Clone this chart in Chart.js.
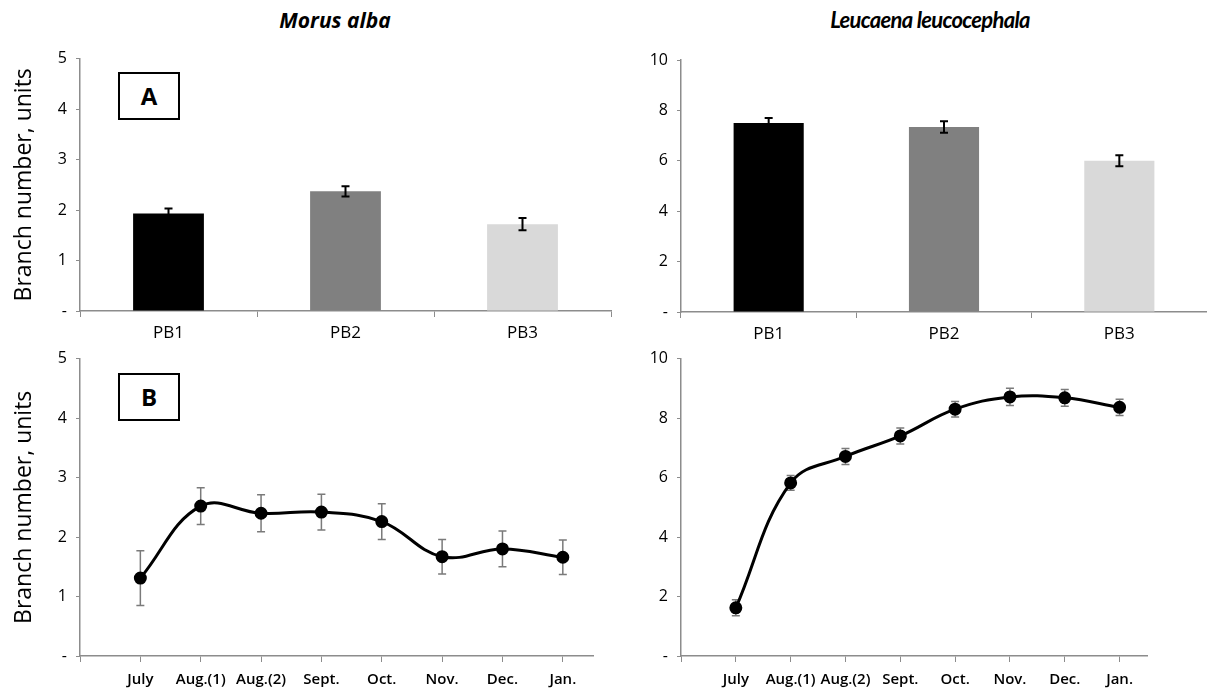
<!DOCTYPE html>
<html lang="en">
<head>
<meta charset="UTF-8">
<title>Branch number</title>
<script src="https://cdn.jsdelivr.net/npm/chart.js"></script>
<style>
  body { margin: 0; background: #fff; font-family: "Open Sans", Lato, sans-serif; }
  .wrap { position: relative; width: 1207px; height: 692px; overflow: hidden; }
  canvas { position: absolute; }
  .title { position: absolute; top: 6px; font-weight: bold; font-style: italic; color: #000; text-align: center; width: 400px; }
  .box { position: absolute; width: 58px; height: 44px; border: 2px solid #000; font-family: "Open Sans", sans-serif; font-weight: bold; font-size: 24px; line-height: 44px; text-align: center; background: #fff; }
</style>
</head>
<body>
<div class="wrap">
  <div class="title" style="left:135px;font-size:21px">Morus alba</div>
  <div class="title" style="left:730px;top:6px;font-family:Lato,sans-serif;font-size:22px;letter-spacing:-0.7px">Leucaena leucocephala</div>

  <canvas id="tl" width="612" height="315" style="left:0;top:40px"></canvas>
  <canvas id="tr" width="607" height="315" style="left:600px;top:40px"></canvas>
  <canvas id="bl" width="612" height="352" style="left:0;top:340px"></canvas>
  <canvas id="br" width="607" height="352" style="left:600px;top:340px"></canvas>

  <div class="box" style="left:118px;top:72px">A</div>
  <div class="box" style="left:118px;top:373px">B</div>
</div>

<script>
// data
const barCats = ['PB1', 'PB2', 'PB3'];
const morusBar = [1.93, 2.37, 1.72];
const morusBarErr = [0.10, 0.10, 0.12];
const leucBar = [7.50, 7.34, 6.00];
const leucBarErr = [0.20, 0.23, 0.22];
const barColors = ['#000000', '#808080', '#d9d9d9'];

const months = ['July', 'Aug.(1)', 'Aug.(2)', 'Sept.', 'Oct.', 'Nov.', 'Dec.', 'Jan.'];
const morusLine = [1.31, 2.52, 2.40, 2.42, 2.26, 1.67, 1.80, 1.66];
const morusLineErr = [0.46, 0.31, 0.31, 0.30, 0.30, 0.29, 0.30, 0.29];
const leucLine = [1.62, 5.82, 6.71, 7.40, 8.30, 8.71, 8.68, 8.36];
const leucLineErr = [0.27, 0.25, 0.27, 0.27, 0.26, 0.29, 0.28, 0.27];

const axisGray = '#8c8c8c';
const tickColor = '#000';
const fontFam = '"Open Sans", Lato, sans-serif';

// error bars drawn through the y scale
const errBars = {
    id: 'errBars',
    beforeDatasetsDraw(chart, args, opts) {
        if (opts.errs && opts.under) drawErr(chart, opts);
    },
    afterDatasetsDraw(chart, args, opts) {
        if (opts.errs && !opts.under) drawErr(chart, opts);
    }
};
function drawErr(chart, opts) {
    const ctx = chart.ctx;
    const y = chart.scales.y;
    const meta = chart.getDatasetMeta(0);
    const data = chart.data.datasets[0].data;
    ctx.save();
    ctx.strokeStyle = opts.color;
    ctx.lineWidth = opts.width;
    meta.data.forEach(function (el, i) {
        const v = typeof data[i] === 'object' ? data[i].y : data[i];
        const t = y.getPixelForValue(v + opts.errs[i]);
        const b = y.getPixelForValue(v - opts.errs[i]);
        const x = el.x;
        ctx.beginPath();
        ctx.moveTo(x, t); ctx.lineTo(x, b);
        ctx.moveTo(x - opts.cap, t); ctx.lineTo(x + opts.cap, t);
        ctx.moveTo(x - opts.cap, b); ctx.lineTo(x + opts.cap, b);
        ctx.stroke();
    });
    ctx.restore();
}
Chart.register(errBars);

function yAxis(max, step, width, withTitle) {
    return {
        min: 0, max: max,
        afterFit: function (s) { s.width = width; },
        ticks: {
            stepSize: step, color: tickColor, padding: 9,
            font: { family: fontFam, size: 16 },
            callback: function (v) { return v === 0 ? '-' : v; }
        },
        grid: { drawOnChartArea: false, drawTicks: true, tickLength: 4, color: axisGray },
        border: { color: axisGray, width: 1.5 },
        title: {
            display: withTitle, text: 'Branch number, units', color: '#000',
            font: { family: fontFam, size: 23 }, padding: { top: 11, bottom: 0 }
        }
    };
}

function barChart(id, values, errs, max, step, yWidth, xHeight, pad, withTitle) {
    new Chart(document.getElementById(id), {
        type: 'bar',
        data: {
            labels: barCats,
            datasets: [{
                data: values,
                backgroundColor: barColors,
                barPercentage: 0.4,
                categoryPercentage: 1
            }]
        },
        options: {
            responsive: false,
            animation: false,
            layout: { padding: pad },
            plugins: {
                legend: { display: false },
                tooltip: { enabled: false },
                errBars: { errs: errs, color: '#000', width: 2, cap: 4, under: false }
            },
            scales: {
                x: {
                    afterFit: function (s) { s.height = xHeight; },
                    ticks: { color: tickColor, padding: 6, font: { family: fontFam, size: 17 } },
                    grid: { drawOnChartArea: false, drawTicks: true, tickLength: 6, color: axisGray, offset: true },
                    border: { color: axisGray, width: 1.5 }
                },
                y: yAxis(max, step, yWidth, withTitle)
            }
        }
    });
}

function lineChart(id, values, errs, max, step, yWidth, pad, withTitle) {
    new Chart(document.getElementById(id), {
        type: 'line',
        data: {
            datasets: [{
                data: months.map(function (m, i) { return { x: i, y: values[i] }; }),
                borderColor: '#000',
                borderWidth: 3,
                tension: 0.4,
                pointRadius: 5,
                pointBackgroundColor: '#000',
                pointBorderColor: '#000'
            }]
        },
        options: {
            responsive: false,
            animation: false,
            layout: { padding: pad },
            plugins: {
                legend: { display: false },
                tooltip: { enabled: false },
                errBars: { errs: errs, color: '#7a7a7a', width: 1.5, cap: 4, under: true }
            },
            scales: {
                x: {
                    type: 'linear', min: -1, max: 7.5,
                    afterFit: function (s) { s.height = 36; },
                    afterBuildTicks: function (s) {
                        s.ticks = [-1, 0, 1, 2, 3, 4, 5, 6, 7].map(function (v) { return { value: v }; });
                    },
                    ticks: {
                        color: tickColor, padding: 9, maxRotation: 0, autoSkip: false,
                        font: { family: fontFam, size: 15, weight: '600' },
                        callback: function (v) { return months[v] || ''; }
                    },
                    grid: { drawOnChartArea: false, drawTicks: true, tickLength: 6, color: axisGray },
                    border: { color: axisGray, width: 1.5 }
                },
                y: yAxis(max, step, yWidth, withTitle)
            }
        }
    });
}

barChart('tl', morusBar, morusBarErr, 5, 1, 80, 44, { top: 18, right: 1, left: 0, bottom: 0 }, true);
barChart('tr', leucBar, leucBarErr, 10, 2, 81, 43, { top: 20, right: 0, left: 0, bottom: 0 }, false);
lineChart('bl', morusLine, morusLineErr, 5, 1, 80, { top: 15, right: 19, left: 0, bottom: 0 }, true);
lineChart('br', leucLine, leucLineErr, 10, 2, 81, { top: 15, right: 60, left: 0, bottom: 0 }, false);
</script>
</body>
</html>
